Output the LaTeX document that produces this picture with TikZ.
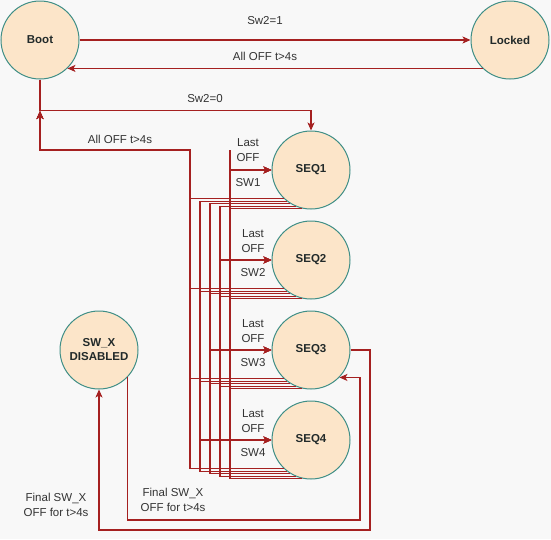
\documentclass[tikz,border=0pt]{standalone}
\usepackage{fontspec}
\setmainfont{Liberation Sans}
\usetikzlibrary{arrows.meta}
\definecolor{bgcol}{HTML}{F8F8F8}
\definecolor{nodefill}{HTML}{FCE5C9}
\definecolor{nodeline}{HTML}{3E8E86}
\definecolor{wirecol}{HTML}{A52020}
\definecolor{txt}{HTML}{333333}
\definecolor{txtdark}{HTML}{222A2A}
\begin{document}
\begin{tikzpicture}[x=1pt,y=-1pt,
  state/.style={circle, draw=nodeline, fill=nodefill, line width=1pt, minimum size=78pt, inner sep=0pt,
    font=\fontsize{11.5}{14}\selectfont\bfseries, text=txtdark, align=center},
  wire/.style={draw=wirecol, line width=1.1pt},
  arr/.style={wire, -{Stealth[length=8pt,width=7pt,inset=2pt]}},
  lbl/.style={font=\fontsize{11.5}{14.5}\selectfont, text=txt, align=center, inner sep=0pt}]
\fill[bgcol] (0,0) rectangle (551,539);
\useasboundingbox (0,0) rectangle (551,539);

% states
\node[state] (boot)   at (40,40)   {Boot};
\node[state] (locked) at (510,40)  {Locked};
\node[state] (seq1)   at (311,170) {SEQ1};
\node[state] (seq2)   at (311,260) {SEQ2};
\node[state] (seq3)   at (311,350) {SEQ3};
\node[state] (seq4)   at (311,440) {SEQ4};
\node[state] (swx)    at (99,350)  {SW\_X\\DISABLED};

% helper coordinates
\coordinate (bootcol) at (190,150);
\coordinate (bootjoin) at (40,111);
\coordinate (stubtop) at (230,150);
\coordinate (loopA) at (370,530);
\coordinate (loopB) at (360,520);

% top edges
\draw[arr] (boot.east) -- (locked.west);
\node[lbl] (l1) at (265,21) {Sw2=1};
\draw[arr] (locked.226) -- (boot.314);
\node[lbl] (l2) at (265,56) {All OFF t>4s};
\draw[arr] (boot.south) -- ++(0,31) -| (seq1.north);
\node[lbl] (l3) at (205,99) {Sw2=0};

% SEQ -> Boot
\foreach \i in {1,2,3,4}{
  \draw[arr] (seq\i.226) -| (bootcol) -| (bootjoin);
}
\node[lbl] (l4) at (120,139) {All OFF t>4s};

% SEQ -> SEQ
\foreach \j/\x/\a in {1/230/257, 2/220/247, 3/210/238, 4/200/233}{
  \foreach \i in {1,2,3,4}{
    \draw[arr] (seq\i.\a) -| (seq\j.west -| \x,0) -- (seq\j.west);
  }
}
\draw[wire] (seq1.west -| stubtop) -- (stubtop);

% labels for Last OFF / SWn
\node[lbl] (lo1) at (248,150) {Last\\OFF};
\node[lbl] (sw1) at (248,183) {SW1};
\node[lbl] (lo2) at (253,241) {Last\\OFF};
\node[lbl] (sw2) at (253,273) {SW2};
\node[lbl] (lo3) at (253,331) {Last\\OFF};
\node[lbl] (sw3) at (253,363) {SW3};
\node[lbl] (lo4) at (253,421) {Last\\OFF};
\node[lbl] (sw4) at (253,453) {SW4};

% SEQ3 <-> SW_X
\draw[arr] (seq3.east) -| (loopA) -| (swx.south);
\node[lbl] (l5) at (56,505) {Final SW\_X\\OFF for t>4s};
\draw[arr] (swx.316) |- (loopB) |- (seq3.316);
\node[lbl] (l6) at (173,500) {Final SW\_X\\OFF for t>4s};
\end{tikzpicture}
\end{document}
